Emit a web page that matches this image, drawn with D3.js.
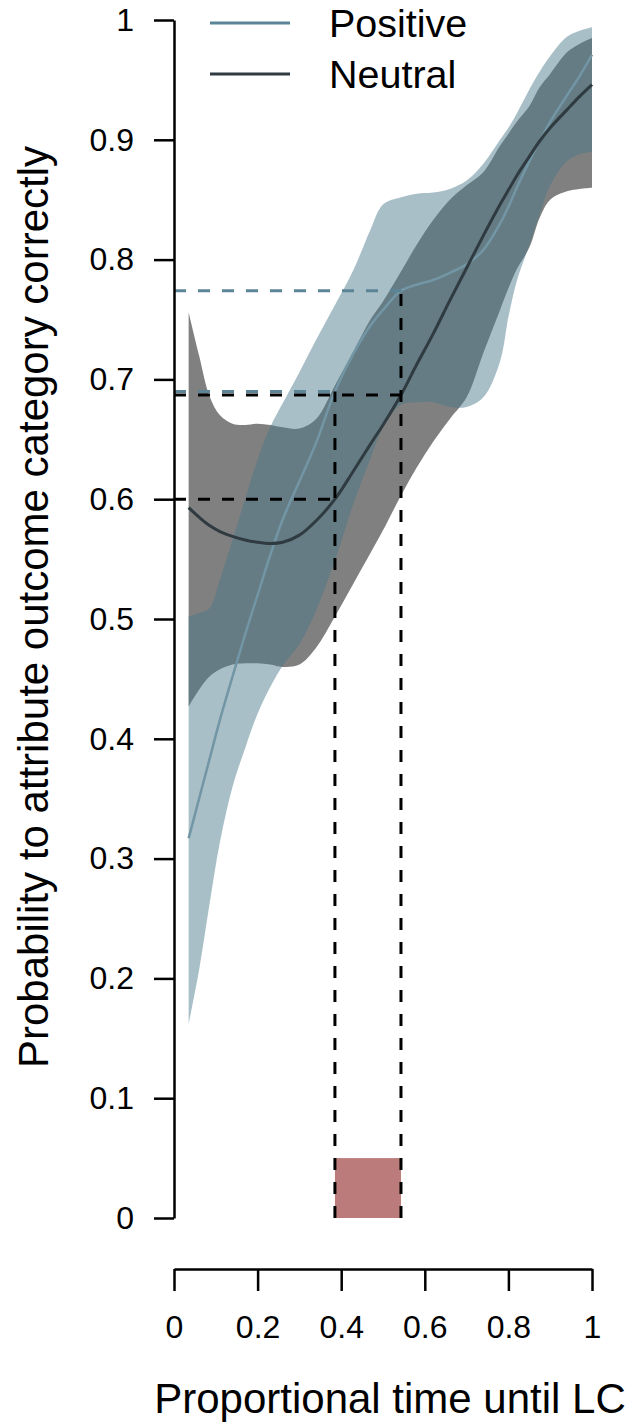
<!DOCTYPE html>
<html>
<head>
<meta charset="utf-8">
<script src="https://cdn.jsdelivr.net/npm/d3@7"></script>
<style>
  html, body { margin: 0; padding: 0; background: #fff; }
  svg { display: block; font-family: "Liberation Sans", Arial, sans-serif; }
</style>
</head>
<body>
<svg id="chart" width="642" height="1424"></svg>
<script>
// ---- data ----
const xs = [0.035,0.06,0.085,0.11,0.14,0.17,0.2,0.23,0.26,0.3,0.34,0.385,0.43,0.47,0.5,0.543,0.58,0.62,0.66,0.7,0.74,0.78,0.8,0.82,0.85,0.875,0.9,0.94,0.97,1.0];
const positiveMean  = [0.317,0.350,0.383,0.416,0.452,0.487,0.520,0.553,0.583,0.615,0.647,0.690,0.722,0.745,0.758,0.774,0.779,0.783,0.789,0.796,0.808,0.830,0.844,0.860,0.882,0.899,0.915,0.937,0.953,0.971];
const positiveUpper = [0.502,0.505,0.509,0.533,0.566,0.600,0.633,0.660,0.680,0.706,0.733,0.762,0.792,0.825,0.846,0.852,0.855,0.856,0.859,0.866,0.880,0.900,0.910,0.922,0.942,0.957,0.970,0.986,0.991,0.994];
const positiveLower = [0.162,0.207,0.262,0.314,0.360,0.392,0.421,0.443,0.461,0.479,0.507,0.549,0.597,0.634,0.660,0.679,0.681,0.681,0.677,0.677,0.685,0.715,0.752,0.782,0.812,0.838,0.862,0.882,0.888,0.890];
const neutralMean   = [0.593,0.585,0.578,0.573,0.569,0.566,0.564,0.563,0.564,0.570,0.582,0.600,0.624,0.646,0.662,0.687,0.712,0.738,0.766,0.793,0.820,0.846,0.858,0.870,0.886,0.899,0.910,0.925,0.936,0.946];
const neutralUpper  = [0.756,0.720,0.686,0.670,0.663,0.662,0.663,0.662,0.660,0.659,0.667,0.695,0.724,0.750,0.765,0.790,0.812,0.833,0.850,0.862,0.873,0.895,0.905,0.915,0.928,0.944,0.955,0.973,0.980,0.985];
const neutralLower  = [0.427,0.441,0.452,0.458,0.462,0.463,0.463,0.462,0.460,0.462,0.476,0.502,0.530,0.555,0.574,0.603,0.626,0.648,0.667,0.685,0.722,0.758,0.776,0.792,0.810,0.835,0.850,0.857,0.859,0.860];

// significance window and reference levels
const windowStart = 0.385, windowEnd = 0.543, windowHeight = 0.05;
const positiveAtStart = 0.690, positiveAtEnd = 0.774;
const neutralAtStart = 0.600, neutralAtEnd = 0.687;

const xTicks = [0, 0.2, 0.4, 0.6, 0.8, 1];
const xTickLabels = ["0", "0.2", "0.4", "0.6", "0.8", "1"];
const yTicks = [0, 0.1, 0.2, 0.3, 0.4, 0.5, 0.6, 0.7, 0.8, 0.9, 1];
const yTickLabels = ["0", "0.1", "0.2", "0.3", "0.4", "0.5", "0.6", "0.7", "0.8", "0.9", "1"];
const seriesNames = ["Positive", "Neutral"];

// ---- styles ----
const colPosBand = "rgba(70,119,136,0.47)";
const colNeuBand = "#808080";
const colPosLine = "#7296a5";
const colPosDash = "#5b8596";
const colNeuLine = "#2f3b40";
const colRect = "#bc7b7b";

const svg = d3.select("#chart");
const x = d3.scaleLinear().domain([0, 1]).range([174, 592]);
const y = d3.scaleLinear().domain([0, 1]).range([1218, 20]);

const rows = xs.map((v, i) => ({
  x: v, pm: positiveMean[i], pu: positiveUpper[i], pl: positiveLower[i],
  nm: neutralMean[i], nu: neutralUpper[i], nl: neutralLower[i]
}));

const curve = d3.curveCatmullRom.alpha(0.5);
const area = (lo, hi) => d3.area().curve(curve).x(d => x(d.x)).y0(d => y(d[lo])).y1(d => y(d[hi]));
const line = key => d3.line().curve(curve).x(d => x(d.x)).y(d => y(d[key]));

svg.append("path").datum(rows).attr("d", area("nl", "nu")).attr("fill", colNeuBand);
svg.append("path").datum(rows).attr("d", area("pl", "pu")).attr("fill", colPosBand);

// red window rectangle
svg.append("rect")
  .attr("x", x(windowStart)).attr("y", y(windowHeight))
  .attr("width", x(windowEnd) - x(windowStart))
  .attr("height", y(0) - y(windowHeight))
  .attr("fill", colRect);

// mean lines
svg.append("path").datum(rows).attr("d", line("pm")).attr("fill", "none")
  .attr("stroke", colPosLine).attr("stroke-width", 2.5);
svg.append("path").datum(rows).attr("d", line("nm")).attr("fill", "none")
  .attr("stroke", colNeuLine).attr("stroke-width", 3);

// dashed guides
const dash = "12,12";
function seg(x1, y1, x2, y2, color) {
  svg.append("line")
    .attr("x1", x(x1)).attr("y1", y(y1)).attr("x2", x(x2)).attr("y2", y(y2))
    .attr("stroke", color).attr("stroke-width", 3).attr("stroke-dasharray", dash);
}
seg(0, positiveAtEnd, windowEnd, positiveAtEnd, colPosDash);
seg(0, positiveAtStart, windowStart, positiveAtStart, colPosDash);
seg(0, neutralAtEnd, windowEnd, neutralAtEnd, "#000");
seg(0, neutralAtStart, windowStart, neutralAtStart, "#000");
seg(windowStart, 0, windowStart, positiveAtStart, "#000");
seg(windowEnd, 0, windowEnd, positiveAtEnd, "#000");

// axes
const yAxis = d3.axisLeft(y).tickValues(yTicks)
  .tickFormat((d, i) => yTickLabels[i]).tickSize(20).tickSizeOuter(0).tickPadding(20);
const gy = svg.append("g").attr("transform", `translate(${x(0)},0)`).call(yAxis);
gy.select(".domain").attr("stroke-width", 2.5);
gy.selectAll(".tick line").attr("stroke-width", 2.5);
gy.selectAll("text").attr("font-size", 32).attr("fill", "#000")
  .attr("font-family", "Liberation Sans, Arial, sans-serif");

const xAxis = d3.axisBottom(x).tickValues(xTicks)
  .tickFormat((d, i) => xTickLabels[i]).tickSize(22).tickSizeOuter(0).tickPadding(24);
const gx = svg.append("g").attr("transform", "translate(0,1269)").call(xAxis);
gx.select(".domain").attr("stroke-width", 2.5);
gx.selectAll(".tick line").attr("stroke-width", 2.5);
gx.selectAll("text").attr("font-size", 32).attr("fill", "#000")
  .attr("font-family", "Liberation Sans, Arial, sans-serif");

// axis titles
svg.append("text").attr("x", 390).attr("y", 1413).attr("text-anchor", "middle")
  .attr("font-size", 42).text("Proportional time until LC");
svg.append("text").attr("transform", "translate(48,607) rotate(-90)").attr("text-anchor", "middle")
  .attr("font-size", 42).text("Probability to attribute outcome category correctly");

// legend
const legendColors = [colPosDash, colNeuLine];
const legendY = [23, 74];
seriesNames.forEach((name, i) => {
  svg.append("line").attr("x1", 210).attr("x2", 290).attr("y1", legendY[i]).attr("y2", legendY[i])
    .attr("stroke", legendColors[i]).attr("stroke-width", 3);
  svg.append("text").attr("x", 329).attr("y", legendY[i] + 14).attr("font-size", 39.5).text(name);
});
</script>
</body>
</html>
